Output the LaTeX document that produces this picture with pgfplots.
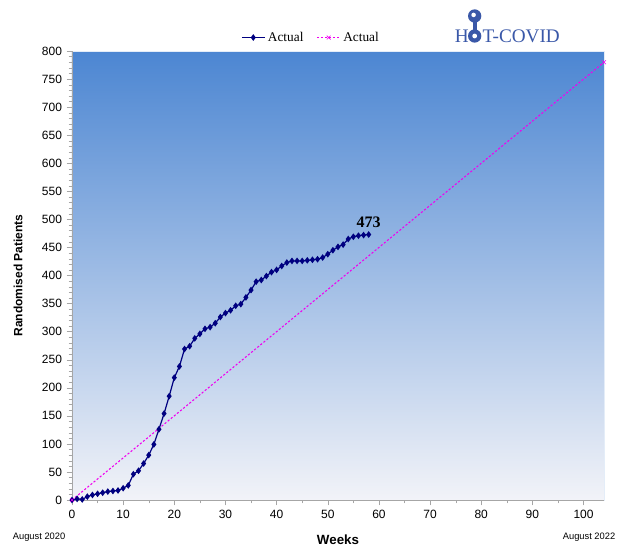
\documentclass[border=0pt]{standalone}
\usepackage{fontspec}
\setmainfont{Liberation Serif}
\setsansfont{Liberation Sans}
\usepackage{pgfplots}
\pgfplotsset{compat=1.18}

\definecolor{actualblue}{RGB}{0,0,128}
\definecolor{targetpink}{RGB}{240,0,240}
\definecolor{bgtop}{RGB}{76,134,210}
\definecolor{bgbot}{RGB}{242,243,248}
\definecolor{logoblue}{RGB}{58,88,168}

\begin{document}
\begin{tikzpicture}
    \begin{axis}[
            scale only axis,
            width=399pt,
            height=336.75pt,
            xmin=0, xmax=104,
            ymin=0, ymax=800,
            xtick={0,10,...,100},
            minor x tick num=1,
            ytick={0,50,...,800},
            minor y tick num=4,
            axis x line*=bottom,
            axis y line*=left,
            axis line style={gray!70, line width=0.6pt},
            tick style={gray!70},
            tick align=outside,
            major tick length=4pt,
            minor tick length=2.5pt,
            axis background/.style={top color=bgtop, bottom color=bgbot, draw=white!85!bgtop},
            tick label style={font=\sffamily\small},
            /pgf/number format/assume math mode=true,
            xlabel={\textbf{Weeks}},
            xlabel style={font=\sffamily\normalsize, at={(axis description cs:0.5,-0.089)}, anchor=center},
            ylabel={\textbf{Randomised Patients}},
            ylabel style={font=\sffamily\small, at={(axis description cs:-0.1015,0.5)}, anchor=center},
            legend style={at={(0.45,1.03)}, anchor=center, draw=none, fill=none,
                font=\normalsize, legend columns=2,
                /tikz/every even column/.append style={column sep=8pt}},
            legend image code/.code={
                \draw[mark repeat=2, mark phase=2, #1] plot coordinates {(0cm,0cm) (0.3cm,0cm) (0.6cm,0cm)};
            },
            clip=false,
        ]
        \addplot[actualblue, line width=0.9pt, mark=diamond*, mark size=1.8pt] coordinates {
                (0,0) (1,2) (2,1) (3,6) (4,9) (5,11) (6,13) (7,15) (8,16) (9,17)
                (10,21) (11,26) (12,46) (13,52) (14,65) (15,80) (16,99) (17,126) (18,154) (19,185)
                (20,218) (21,238) (22,269) (23,274) (24,288) (25,296) (26,305) (27,308) (28,315) (29,326)
                (30,333) (31,338) (32,346) (33,349) (34,361) (35,374) (36,389) (37,392) (38,399) (39,406)
                (40,410) (41,417) (42,423) (43,426) (44,426) (45,426) (46,427) (47,428) (48,429) (49,432)
                (50,438) (51,445) (52,451) (53,455) (54,465) (55,469) (56,471) (57,472) (58,473)
            };
        \addlegendentry{Actual}
        \addplot[targetpink, line width=0.8pt, dash pattern=on 1.6pt off 1.4pt, mark=x, mark size=2pt, mark options={solid, line width=0.5pt}] coordinates {
                (0,0) (104,780)
            };
        \addlegendentry{Actual}
        \node[font=\bfseries\large, anchor=south] at (axis cs:58,476) {473};
        \node[font=\sffamily\scriptsize, anchor=north west] at (rel axis cs:-0.12,-0.064) {August 2020};
        \node[font=\sffamily\scriptsize, anchor=north east] at (rel axis cs:1.03,-0.064) {August 2022};
    \end{axis}
    % logo
    \node[font=\Large, text=logoblue, anchor=base west, inner sep=0pt] at (287pt,343pt) {H\phantom{O}T-COVID};
    \fill[logoblue] (302pt,348pt) circle (5pt);
    \fill[white] (302pt,348pt) circle (1.8pt);
    \fill[logoblue] (300.6pt,351pt) rectangle (303.4pt,359pt);
    \fill[logoblue] (302pt,363pt) circle (5pt);
    \fill[white] (301.2pt,363.8pt) circle (1.7pt);
    \pgfresetboundingbox
    \path[use as bounding box] (-54pt,-34.5pt) rectangle (414.75pt,375pt);
\end{tikzpicture}
\end{document}
